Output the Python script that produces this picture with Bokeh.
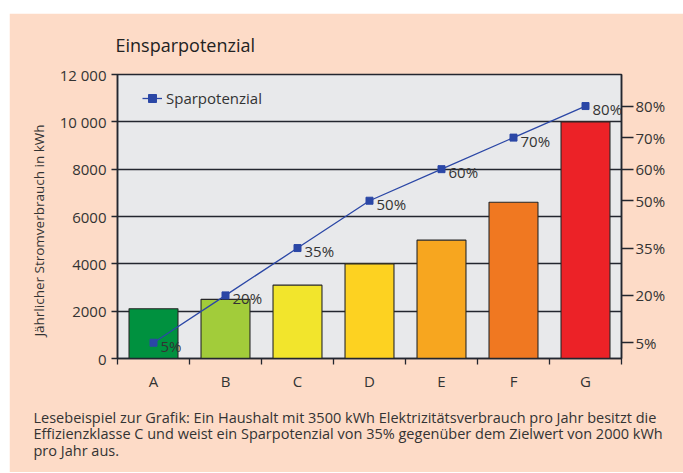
from bokeh.plotting import figure
from bokeh.models import Range1d, LinearAxis, FixedTicker, Title, ColumnDataSource, Spacer
from bokeh.layouts import row, column
from bokeh.core.properties import value
from bokeh.embed import file_html
from bokeh.resources import INLINE

categories = ["A", "B", "C", "D", "E", "F", "G"]
consumption = [2100, 2500, 3100, 4000, 5000, 6600, 10000]
savings_pct = [5, 20, 35, 50, 60, 70, 80]
bar_colors = ["#00913f", "#a2cc3a", "#f2e52c", "#fdd221", "#f7a61f", "#f07821", "#ec2227"]
left_ticks = [0, 2000, 4000, 6000, 8000, 10000, 12000]
left_tick_labels = ["0", "2000", "4000", "6000", "8000", "10 000", "12 000"]
right_ticks = [5, 20, 35, 50, 60, 70, 80]

FONT = "Open Sans"
TXT = "#333333"
BG = "#fddbc7"
DARK = "#23262f"
BLUE = "#2b47a6"

xs = [i + 0.5 for i in range(len(categories))]
src = ColumnDataSource(dict(x=xs, y=consumption, c=bar_colors, p=savings_pct,
                            lbl=[f"{v}%" for v in savings_pct]))

p = figure(width=674, height=459, output_backend="svg", toolbar_location=None,
           x_range=Range1d(0, len(categories)), y_range=Range1d(0, 12000),
           min_border_left=108, min_border_right=62, min_border_top=61,
           min_border_bottom=114)
p.extra_y_ranges = {"pct": Range1d(0, 90)}
p.background_fill_color = "#e8e9eb"
p.border_fill_color = BG
p.outline_line_color = DARK
p.outline_line_width = 1.5

# grid
p.xgrid.visible = False
p.ygrid.ticker = FixedTicker(ticks=left_ticks)
p.ygrid.grid_line_color = DARK
p.ygrid.grid_line_width = 1.5

# bars
p.vbar(x="x", top="y", width=0.68, bottom=0, fill_color="c", line_color="#262626",
       line_width=1.1, source=src)

# line
p.line("x", "p", source=src, y_range_name="pct", line_color=BLUE, line_width=1.3,
       legend_label="Sparpotenzial")
p.scatter("x", "p", source=src, y_range_name="pct", marker="square", size=7,
          fill_color=BLUE, line_color=BLUE, legend_label="Sparpotenzial")
p.text("x", "p", text="lbl", source=src, y_range_name="pct", x_offset=7, y_offset=3,
       text_baseline="middle", text_align="left", text_font=value(FONT),
       text_font_size="15px", text_color=TXT)

# x axis
xa = p.xaxis[0]
xa.ticker = FixedTicker(ticks=xs, minor_ticks=list(range(len(categories) + 1)))
xa.major_label_overrides = {x: c for x, c in zip(xs, categories)}
xa.major_tick_line_color = None
xa.major_tick_out = 0
xa.major_tick_in = 0
xa.minor_tick_out = 6
xa.minor_tick_in = 0
xa.minor_tick_line_color = DARK
xa.minor_tick_line_width = 1.3
xa.major_label_standoff = 6
xa.axis_line_color = DARK
xa.axis_line_width = 1.5

# left axis
ya = p.yaxis[0]
ya.ticker = FixedTicker(ticks=left_ticks)
ya.major_label_overrides = {t: l for t, l in zip(left_ticks, left_tick_labels)}
ya.minor_tick_line_color = None
ya.major_tick_out = 6
ya.major_tick_in = 0
ya.major_tick_line_color = DARK
ya.major_tick_line_width = 1.3
ya.major_label_standoff = 5
ya.axis_line_color = DARK
ya.axis_line_width = 1.5
ya.axis_label = "Jährlicher Stromverbrauch in kWh" + "\u00a0" * 8
ya.axis_label_standoff = 9
ya.axis_label_text_font_style = "normal"
ya.axis_label_text_font_size = "13.5px"

# right axis
ra = LinearAxis(y_range_name="pct", ticker=FixedTicker(ticks=right_ticks))
ra.major_label_overrides = {t: f"{t}%" for t in right_ticks}
ra.minor_tick_line_color = None
ra.major_tick_out = 12
ra.major_tick_in = 0
ra.major_tick_line_color = DARK
ra.major_tick_line_width = 1.3
ra.major_label_standoff = 2
ra.axis_line_color = DARK
ra.axis_line_width = 1.5
p.add_layout(ra, "right")

for ax in (xa, ya, ra):
    ax.major_label_text_font = FONT
    ax.major_label_text_font_size = "15px"
    ax.major_label_text_color = TXT
    ax.axis_label_text_font = FONT
    ax.axis_label_text_color = TXT

# legend
leg = p.legend[0]
leg.location = (25, 250)
leg.background_fill_alpha = 0
leg.border_line_color = None
leg.padding = 5
leg.margin = 0
leg.glyph_width = 20
leg.glyph_height = 20
leg.label_standoff = 4
leg.label_text_font = FONT
leg.label_text_font_size = "15px"
leg.label_text_color = TXT

# title
p.title = Title(text="Einsparpotenzial", align="left", offset=-2, standoff=35,
                text_font=FONT, text_font_size="18px", text_font_style="normal",
                text_color="#222222")

caption = ("Lesebeispiel zur Grafik: Ein Haushalt mit 3500 kWh Elektrizitätsverbrauch pro Jahr besitzt die\n"
           "Effizienzklasse C und weist ein Sparpotenzial von 35% gegenüber dem Zielwert von 2000 kWh\n"
           "pro Jahr aus.")
cap = Title(text=caption, align="left", offset=-84, standoff=25, text_font=FONT,
            text_font_size="14.5px", text_font_style="normal", text_color=TXT,
            text_line_height=0.88)
p.add_layout(cap, "below")

layout = row(Spacer(width=9, height=472), column(Spacer(width=674, height=13), p))
open("out.html", "w").write(file_html(layout, INLINE))
